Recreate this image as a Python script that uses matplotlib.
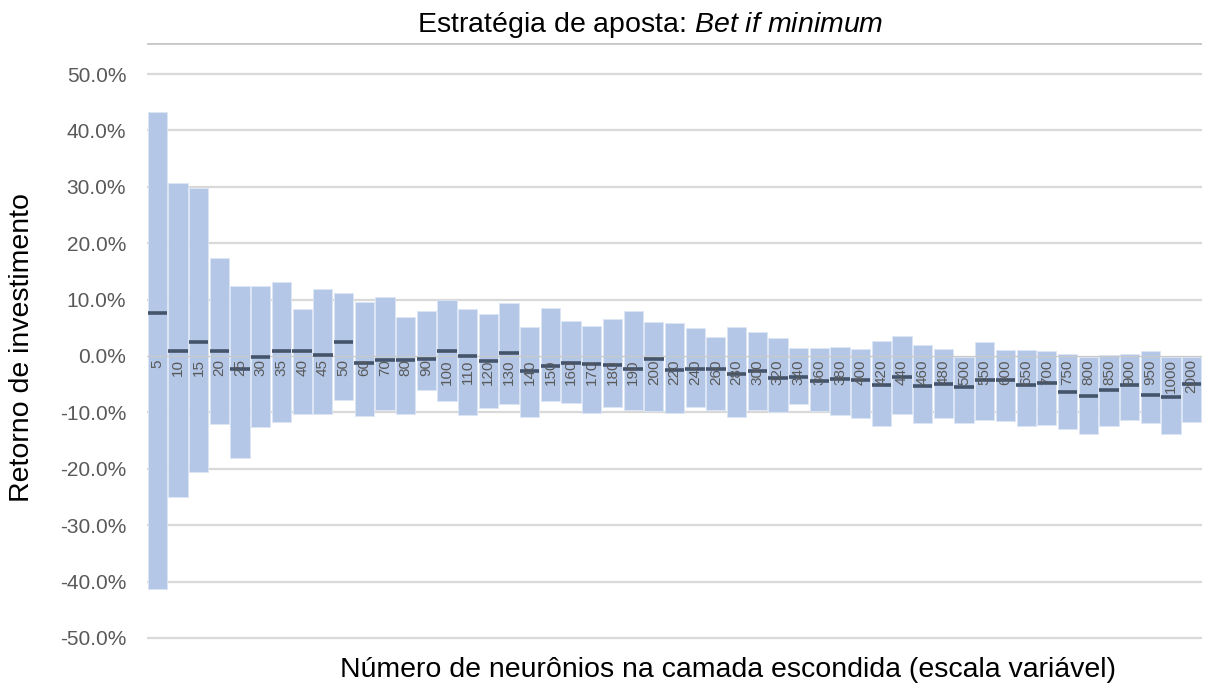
import numpy as np
import matplotlib
matplotlib.use('Agg')
import matplotlib.pyplot as plt

# neurônios na camada escondida (escala variável)
neuronios = ['5', '10', '15', '20', '25', '30', '35', '40', '45', '50',
             '60', '70', '80', '90', '100', '110', '120', '130', '140', '150',
             '160', '170', '180', '190', '200', '220', '240', '260', '280', '300',
             '320', '340', '360', '380', '400', '420', '440', '460', '480', '500',
             '550', '600', '650', '700', '750', '800', '850', '900', '950', '1000',
             '2000']

# retorno máximo (%)
maximo = [43.3, 30.7, 29.7, 17.4, 12.4, 12.4, 13.2, 8.3, 11.8, 11.1,
          9.6, 10.5, 6.9, 8.0, 9.9, 8.3, 7.4, 9.45, 5.2, 8.5,
          6.2, 5.3, 6.6, 8.0, 6.0, 5.8, 5.0, 3.35, 5.2, 4.3,
          3.2, 1.5, 1.5, 1.6, 1.2, 2.7, 3.5, 1.9, 1.3, -0.1,
          2.5, 1.0, 1.0, 0.9, 0.4, -0.2, 0.2, 0.4, 0.9, -0.1,
          -0.1]

# retorno mínimo (%)
minimo = [-41.3, -25.0, -20.6, -12.1, -18.1, -12.6, -11.7, -10.3, -10.3, -7.8,
          -10.6, -9.5, -10.2, -6.0, -7.9, -10.5, -9.3, -8.6, -10.8, -8.0,
          -8.4, -10.1, -9.0, -9.5, -9.8, -10.1, -9.0, -9.65, -10.8, -9.5,
          -9.9, -8.6, -9.8, -10.5, -11.0, -12.5, -10.3, -11.8, -11.0, -11.9,
          -11.4, -11.6, -12.4, -12.2, -12.9, -13.8, -12.4, -11.3, -11.9, -13.8,
          -11.75]

# retorno mediano (%)
mediana = [7.6, 0.8, 2.5, 0.95, -2.3, -0.2, 0.8, 0.8, 0.1, 2.4,
           -1.3, -0.65, -0.65, -0.5, 0.8, 0.0, -0.8, 0.5, -2.6, -1.7,
           -1.2, -1.4, -1.65, -2.3, -0.6, -2.4, -2.3, -2.3, -3.2, -2.65,
           -3.9, -3.7, -4.35, -4.05, -4.2, -5.1, -3.8, -5.4, -4.95, -5.55,
           -4.3, -4.3, -5.2, -4.8, -6.3, -7.1, -6.0, -5.1, -6.95, -7.2,
           -4.95]

# fontes
plt.rcParams['font.family'] = ['Liberation Sans', 'DejaVu Sans']
plt.rcParams['mathtext.fontset'] = 'custom'
plt.rcParams['mathtext.rm'] = 'Liberation Sans'
plt.rcParams['mathtext.it'] = 'Liberation Sans:italic'

fig = plt.figure(figsize=(12.08, 6.89), dpi=100)
ax = fig.add_axes([147/1208, 1 - 643.6/689, (1202 - 147)/1208, (643.6 - 43)/689])

x = np.arange(len(neuronios))
maximo = np.array(maximo)
minimo = np.array(minimo)
mediana = np.array(mediana)

# linhas de grade
for g in range(-50, 51, 10):
    if g != 0:
        ax.axhline(g, color='#d9d9d9', lw=1.6, zorder=0)
ax.axhline(55.5, color='#c8c8c8', lw=2.0, zorder=0)

# barras flutuantes (mínimo -> máximo)
ax.bar(x, maximo - minimo, bottom=minimo, width=0.93, color='#b4c7e7',
       edgecolor='#dce6f4', linewidth=0.6, zorder=2)

# eixo no zero
ax.axhline(0, color='#c9c9c9', lw=0.9, zorder=3)

# mediana
ax.hlines(mediana, x - 0.47, x + 0.47, color='#44546a', lw=2.6, zorder=4)

# rótulos das categorias junto ao zero
for xi, lab in zip(x, neuronios):
    ax.text(xi, -0.6, lab, rotation=90, ha='center', va='top',
            fontsize=11, color='#595959', zorder=5)

ax.set_xlim(-0.5, len(neuronios) - 0.5)
ax.set_ylim(-51, 55.5)
ax.set_xticks([])
ax.set_yticks(np.arange(-50, 51, 10))
ax.set_yticklabels(['%.1f%%' % v for v in np.arange(-50, 51, 10)])
ax.tick_params(axis='y', length=0, pad=15, labelsize=15, labelcolor='#595959')
for s in ax.spines.values():
    s.set_visible(False)

# títulos
fig.text(650/1208, 1 - 25/689, r'Estratégia de aposta: $\it{Bet\ if\ minimum}$',
         ha='center', va='center', fontsize=20.5)
fig.text(728/1208, 1 - 670/689,
         'Número de neurônios na camada escondida (escala variável)',
         ha='center', va='center', fontsize=20.5)
fig.text(22/1208, 1 - 347/689, 'Retorno de investimento', rotation=90,
         ha='center', va='center', fontsize=20.5)

fig.savefig('out.png', dpi=100)
